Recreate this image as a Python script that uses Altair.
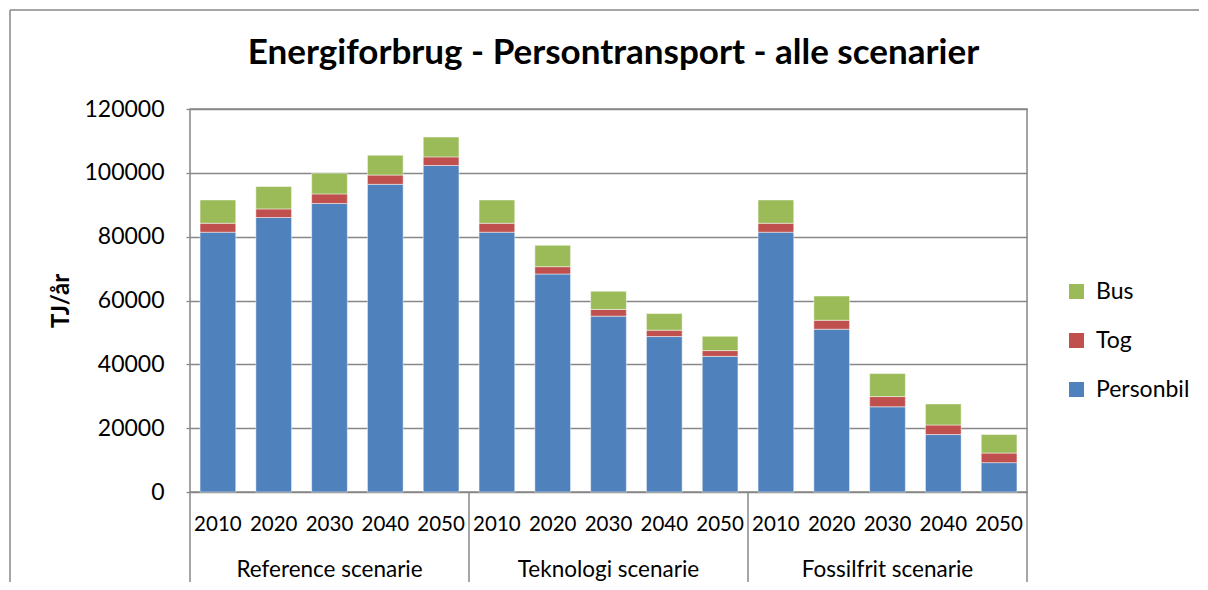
import altair as alt
import pandas as pd

# ---- data ----
scenarios = ["Reference scenarie", "Teknologi scenarie", "Fossilfrit scenarie"]
years = ["2010", "2020", "2030", "2040", "2050"]
series = ["Personbil", "Tog", "Bus"]
personbil = [81400, 86000, 90400, 96400, 102300,
             81400, 68300, 55100, 48700, 42500,
             81400, 51000, 26700, 18000, 9200]
tog = [2800, 2700, 3000, 2900, 2700,
       2800, 2300, 2100, 2000, 1800,
       2800, 2800, 3200, 3000, 3000]
bus = [7300, 7000, 6500, 6200, 6200,
       7300, 6700, 5700, 5200, 4500,
       7300, 7600, 7200, 6600, 5800]
y_ticks = [0, 20000, 40000, 60000, 80000, 100000, 120000]
colors = {"Bus": "#9BBB59", "Tog": "#C0504D", "Personbil": "#4F81BD"}
title_text = "Energiforbrug - Persontransport - alle scenarier"

FONT = "Lato"
GRAY = "#878787"

rows = []
vals = {"Personbil": personbil, "Tog": tog, "Bus": bus}
for si, s in enumerate(scenarios):
    for yi, y in enumerate(years):
        idx = si * len(years) + yi
        for oi, ser in enumerate(series):
            rows.append({"idx": idx, "scenario": s, "year": y, "series": ser,
                         "value": vals[ser][idx], "ord": oi})
df = pd.DataFrame(rows)

cats = pd.DataFrame([{"idx": si * len(years) + yi, "year": y}
                     for si, s in enumerate(scenarios) for yi, y in enumerate(years)])
groups = pd.DataFrame([{"g": si, "scenario": s} for si, s in enumerate(scenarios)])
seps = pd.DataFrame({"pos": [i * len(years) for i in range(len(scenarios) + 1)]})
frame = pd.DataFrame({"k": [0]})
title_df = pd.DataFrame({"t": [title_text], "c": [len(scenarios) * len(years) / 2]})

W, H = 837, 383
xscale = alt.Scale(domain=[0, len(scenarios) * len(years)], nice=False, zero=False)
yscale = alt.Scale(domain=[0, 120000], nice=False)

bars = alt.Chart(df).transform_stack(
    stack="value", groupby=["idx"], as_=["y0", "y1"],
    sort=[alt.SortField("ord", order="ascending")]
).transform_calculate(
    x0="datum.idx + 0.18", x1="datum.idx + 0.82"
).mark_bar(stroke="white", strokeWidth=0.8, strokeOpacity=0.6).encode(
    x=alt.X("x0:Q", scale=xscale, axis=None),
    x2="x1:Q",
    y=alt.Y("y0:Q", scale=yscale,
            axis=alt.Axis(values=y_ticks, format="d", title="TJ/år",
                          grid=True, gridColor=GRAY, gridWidth=1.3,
                          domain=False, ticks=True, tickSize=4, tickColor=GRAY,
                          tickWidth=1.3, labelPadding=22, labelFont=FONT,
                          labelFontSize=23, labelColor="#000000",
                          titleFont=FONT, titleFontSize=24, titleFontWeight="bold",
                          titleColor="#000000", titleAngle=270, titleX=-129,
                          titleY=H / 2, titleAlign="center", titleBaseline="middle")),
    y2="y1:Q",
    color=alt.Color("series:N",
                    scale=alt.Scale(domain=["Bus", "Tog", "Personbil"],
                                    range=[colors["Bus"], colors["Tog"], colors["Personbil"]]),
                    legend=alt.Legend(title=None, orient="none", legendX=875, legendY=171,
                                      symbolType="square", symbolSize=225,
                                      symbolStrokeWidth=0, labelFont=FONT,
                                      labelFontSize=23, labelColor="#000000",
                                      labelOffset=8, rowPadding=25, padding=0)),
)

year_text = alt.Chart(cats).transform_calculate(
    xc="datum.idx + 0.5"
).mark_text(font=FONT, fontSize=20.5, baseline="alphabetic", align="center",
            color="#000000").encode(
    x=alt.X("xc:Q", scale=xscale, axis=None),
    y=alt.value(422),
    text="year:N",
)

scen_text = alt.Chart(groups).transform_calculate(
    xc="datum.g * %d + %f" % (len(years), len(years) / 2)
).mark_text(font=FONT, fontSize=22.5, baseline="alphabetic", align="center",
            color="#000000").encode(
    x=alt.X("xc:Q", scale=xscale, axis=None),
    y=alt.value(468),
    text="scenario:N",
)

title_mark = alt.Chart(title_df).mark_text(
    font=FONT, fontSize=35, fontWeight="bold", baseline="alphabetic",
    align="center", color="#000000", dx=5
).encode(
    x=alt.X("c:Q", scale=xscale, axis=None),
    y=alt.value(-45),
    text="t:N",
)

sep_rules = alt.Chart(seps).mark_rule(color=GRAY, strokeWidth=1.5).encode(
    x=alt.X("pos:Q", scale=xscale, axis=None),
    y=alt.value(H),
    y2=alt.value(H + 93),
)

# chart-area frame: top and left edges (right and bottom lie outside the window)
frame_top = alt.Chart(frame).mark_rule(color=GRAY, strokeWidth=1.5).encode(
    x=alt.value(-180), x2=alt.value(1009), y=alt.value(-99)
)
frame_left = alt.Chart(frame).mark_rule(color=GRAY, strokeWidth=1.5).encode(
    x=alt.value(-180), y=alt.value(-99), y2=alt.value(480)
)

chart = alt.layer(frame_top, frame_left, bars, sep_rules, year_text, scen_text,
                  title_mark).properties(
    width=W, height=H,
    autosize=alt.AutoSizeParams(type="none"),
    padding={"left": 182, "top": 101, "right": 173, "bottom": 90},
).configure_view(stroke=GRAY, strokeWidth=1.5)

chart.save("out.html", embed_options={"renderer": "svg", "actions": False})
